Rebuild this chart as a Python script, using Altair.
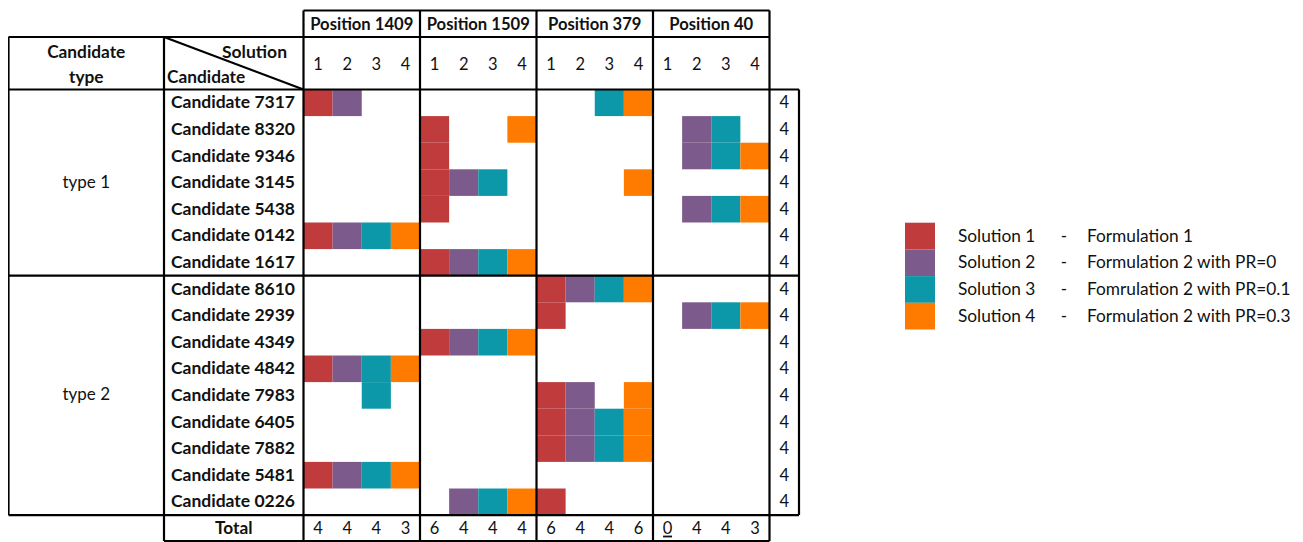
import altair as alt
import pandas as pd

# ---------------- data ----------------
positions = ["Position 1409", "Position 1509", "Position 379", "Position 40"]
solutions = ["Solution 1", "Solution 2", "Solution 3", "Solution 4"]
formulations = ["Formulation 1", "Formulation 2 with PR=0",
                "Fomrulation 2 with PR=0.1", "Formulation 2 with PR=0.3"]
sol_colors = ["#BF3B3C", "#7D5A8C", "#0C98A9", "#FF7B00"]
sub_labels = ["1", "2", "3", "4"]

candidates = ["Candidate 7317", "Candidate 8320", "Candidate 9346", "Candidate 3145",
              "Candidate 5438", "Candidate 0142", "Candidate 1617",
              "Candidate 8610", "Candidate 2939", "Candidate 4349", "Candidate 4842",
              "Candidate 7983", "Candidate 6405", "Candidate 7882", "Candidate 5481",
              "Candidate 0226"]
type_names = ["type 1", "type 2"]
type_sizes = [7, 9]

# solutions selected per candidate (row order above), one list per position
pos1409 = [[1, 2], [], [], [], [], [1, 2, 3, 4], [], [], [], [], [1, 2, 3, 4], [3], [], [], [1, 2, 3, 4], []]
pos1509 = [[], [1, 4], [1], [1, 2, 3], [1], [], [1, 2, 3, 4], [], [], [1, 2, 3, 4], [], [], [], [], [], [2, 3, 4]]
pos379 = [[3, 4], [], [], [4], [], [], [], [1, 2, 3, 4], [1], [], [], [1, 2, 4], [1, 2, 3, 4], [1, 2, 3, 4], [], [1]]
pos40 = [[], [2, 3], [2, 3, 4], [], [2, 3, 4], [], [], [], [2, 3, 4], [], [], [], [], [], [], []]

row_totals = [4] * 16
col_totals = [4, 4, 4, 3, 6, 4, 4, 4, 6, 4, 4, 6, 0, 4, 4, 3]

# ---------------- layout (page pixel units) ----------------
W, H = 1287, 534
X_TYPE_L, X_CAND_L, X_POS_L = 8.5, 164.0, 303.5
POS_W = 116.5
SUB_W = POS_W / 4
X_POS_R = X_POS_L + 4 * POS_W
X_TOT_R = 799.0
Y_TOP, Y_HDR, Y_DATA = 10.5, 37.0, 89.5
ROW_H = 26.6
Y_DATA_B = Y_DATA + 16 * ROW_H
Y_TOT_B = 541.0
LEG_X, LEG_W, LEG_Y, LEG_H = 905, 30, 222.7, 26.7
TXT = "#111111"
FONT = "Lato"

xs = alt.Scale(domain=[8, 8 + W], range=[0, W])
ys = alt.Scale(domain=[8, 8 + H], range=[0, H])


def X(f):
    return alt.X(f, type="quantitative", scale=xs, axis=None)


def Y(f):
    return alt.Y(f, type="quantitative", scale=ys, axis=None)


# cells
cells = []
for p, plist in enumerate([pos1409, pos1509, pos379, pos40]):
    for r, sols in enumerate(plist):
        for s in sols:
            x0 = X_POS_L + p * POS_W + (s - 1) * SUB_W
            y0 = Y_DATA + r * ROW_H
            cells.append(dict(x=x0, x2=x0 + SUB_W, y=y0, y2=y0 + ROW_H, sol=solutions[s - 1]))
for i, s in enumerate(solutions):
    cells.append(dict(x=LEG_X, x2=LEG_X + LEG_W, y=LEG_Y + i * LEG_H,
                      y2=LEG_Y + (i + 1) * LEG_H, sol=s))
cells_df = pd.DataFrame(cells)

color = alt.Color("sol:N", scale=alt.Scale(domain=solutions, range=sol_colors), legend=None)
rects = alt.Chart(cells_df).mark_rect(strokeWidth=0).encode(
    x=X("x"), x2="x2", y=Y("y"), y2="y2", color=color)

# borders
Y_MID = Y_DATA + type_sizes[0] * ROW_H
lines = [
    (X_POS_L, Y_TOP, X_POS_R, Y_TOP),
    (X_TYPE_L, Y_HDR, X_POS_R, Y_HDR),
    (X_TYPE_L, Y_DATA, X_TOT_R, Y_DATA),
    (X_TYPE_L, Y_MID, X_TOT_R, Y_MID),
    (X_TYPE_L, Y_DATA_B, X_TOT_R, Y_DATA_B),
    (X_CAND_L, Y_TOT_B, X_POS_R, Y_TOT_B),
    (X_TYPE_L, Y_HDR, X_TYPE_L, Y_DATA_B),
    (X_CAND_L, Y_HDR, X_CAND_L, Y_TOT_B),
    (X_TOT_R, Y_DATA, X_TOT_R, Y_DATA_B),
    (X_CAND_L, Y_HDR, X_POS_L, Y_DATA),
]
for k in range(5):
    xk = X_POS_L + k * POS_W
    lines.append((xk, Y_TOP, xk, Y_TOT_B))
lines_df = pd.DataFrame(lines, columns=["x", "y", "x2", "y2"])
borders = alt.Chart(lines_df).mark_rule(color="black", strokeWidth=2.2).encode(
    x=X("x"), x2="x2", y=Y("y"), y2="y2")

# underline for zero totals
ul = []
for j, v in enumerate(col_totals):
    if v == 0:
        cx = X_POS_L + j * SUB_W + SUB_W / 2
        ul.append(dict(x=cx - 4.5, x2=cx + 4.5, y=Y_TOT_B - 4.5, y2=Y_TOT_B - 4.5))
underline = alt.Chart(pd.DataFrame(ul)).mark_rule(color=TXT, strokeWidth=1.8).encode(
    x=X("x"), x2="x2", y=Y("y"), y2="y2")

# texts
pos_c, bold_c, norm_c, bold_r, bold_l, norm_l, num_c = [], [], [], [], [], [], []
for p, name in enumerate(positions):
    pos_c.append(dict(x=X_POS_L + p * POS_W + POS_W / 2, y=(Y_TOP + Y_HDR) / 2 + 0.8, t=name))
    for s, lab in enumerate(sub_labels):
        num_c.append(dict(x=X_POS_L + p * POS_W + s * SUB_W + SUB_W / 2, y=65, t=lab))
bold_c.append(dict(x=(X_TYPE_L + X_CAND_L) / 2, y=52.5, t="Candidate"))
bold_c.append(dict(x=(X_TYPE_L + X_CAND_L) / 2, y=77.5, t="type"))
bold_r.append(dict(x=287, y=52.5, t="Solution"))
bold_l.append(dict(x=167, y=77.5, t="Candidate"))
for r, c in enumerate(candidates):
    yc = Y_DATA + r * ROW_H + ROW_H / 2 + 0.6
    bold_r.append(dict(x=295, y=yc, t=c))
    num_c.append(dict(x=(X_POS_R + X_TOT_R) / 2, y=yc, t=str(row_totals[r])))
start = 0
for name, n in zip(type_names, type_sizes):
    norm_c.append(dict(x=(X_TYPE_L + X_CAND_L) / 2, y=Y_DATA + (start + n / 2) * ROW_H, t=name))
    start += n
ytot = (Y_DATA_B + Y_TOT_B) / 2 + 0.6
bold_c.append(dict(x=(X_CAND_L + X_POS_L) / 2, y=ytot, t="Total"))
for j, v in enumerate(col_totals):
    num_c.append(dict(x=X_POS_L + j * SUB_W + SUB_W / 2, y=ytot, t=str(v)))
for i, (s, f) in enumerate(zip(solutions, formulations)):
    yc = LEG_Y + i * LEG_H + LEG_H / 2 + 0.6
    norm_l.append(dict(x=958, y=yc, t=s))
    norm_c.append(dict(x=1064, y=yc, t="-"))
    norm_l.append(dict(x=1087, y=yc, t=f))


def txt(rows, weight, align, size):
    return alt.Chart(pd.DataFrame(rows)).mark_text(
        font=FONT, fontSize=size, fontWeight=weight, align=align,
        baseline="middle", color=TXT).encode(x=X("x"), y=Y("y"), text="t:N")


chart = alt.layer(
    rects, borders, underline,
    txt(pos_c, "bold", "center", 16.6),
    txt(bold_c, "bold", "center", 17.3),
    txt(bold_r, "bold", "right", 17.5),
    txt(bold_l, "bold", "left", 17.3),
    txt(norm_c, "normal", "center", 17),
    txt(num_c, "normal", "center", 16.5),
    txt(norm_l, "normal", "left", 17.3),
).properties(width=W, height=H, padding=0, autosize="none").configure_view(stroke=None)

chart.save("out.html", embed_options={"renderer": "svg", "actions": False})
